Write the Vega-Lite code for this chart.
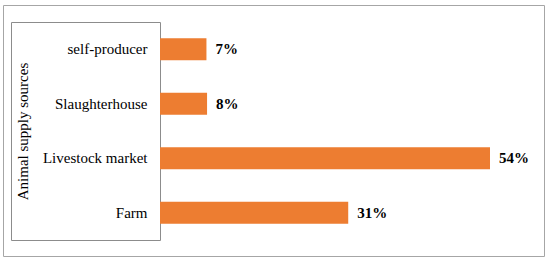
{
  "$schema": "https://vega.github.io/schema/vega-lite/v6.json",
  "width": 541,
  "height": 251,
  "autosize": {"type": "none"},
  "padding": {"left": 3, "top": 5, "right": 6, "bottom": 6},
  "background": "#ffffff",
  "config": {
    "view": {"stroke": "#a6a6a6", "strokeWidth": 1},
    "font": "Liberation Serif"
  },
  "data": {
    "values": [
      {"source": "self-producer", "share": 7.6, "label": "7%"},
      {"source": "Slaughterhouse", "share": 7.7, "label": "8%"},
      {"source": "Livestock market", "share": 54, "label": "54%"},
      {"source": "Farm", "share": 30.8, "label": "31%"}
    ]
  },
  "layer": [
    {
      "encoding": {
        "y": {
          "field": "source",
          "type": "nominal",
          "sort": null,
          "scale": {"range": [17, 235], "paddingInner": 0.6, "paddingOuter": 0.3},
          "axis": {
            "orient": "left",
            "offset": -157,
            "ticks": false,
            "grid": false,
            "labelPadding": 13,
            "labelFont": "Liberation Serif",
            "labelFontSize": 15,
            "labelColor": "#000000",
            "labelLimit": 0,
            "domainColor": "#8c8c8c",
            "title": "Animal supply sources",
            "titleFont": "Liberation Serif",
            "titleFontSize": 15,
            "titleFontWeight": "normal",
            "titleColor": "#000000",
            "titlePadding": 12
          }
        },
        "x": {
          "field": "share",
          "type": "quantitative",
          "scale": {"domain": [0, 54], "range": [157, 487], "nice": false},
          "axis": null
        }
      },
      "layer": [
        {"mark": {"type": "bar", "color": "#ED7D31"}},
        {
          "mark": {"type": "text", "align": "left", "baseline": "middle", "dx": 9, "font": "Liberation Serif", "fontSize": 15, "fontWeight": "bold", "color": "#000000"},
          "encoding": {"text": {"field": "label"}}
        }
      ]
    },
    {
      "mark": {"type": "point", "opacity": 0},
      "encoding": {
        "y": {
          "datum": 0.5,
          "type": "quantitative",
          "scale": {"domain": [0, 1], "range": [235, 17], "nice": false, "zero": false},
          "axis": {
            "orient": "left",
            "offset": -8,
            "values": [0, 1],
            "tickSize": -149,
            "tickColor": "#8c8c8c",
            "domainColor": "#8c8c8c",
            "labels": false,
            "grid": false,
            "title": null
          }
        }
      }
    }
  ],
  "resolve": {"scale": {"y": "independent"}, "axis": {"y": "independent"}}
}
